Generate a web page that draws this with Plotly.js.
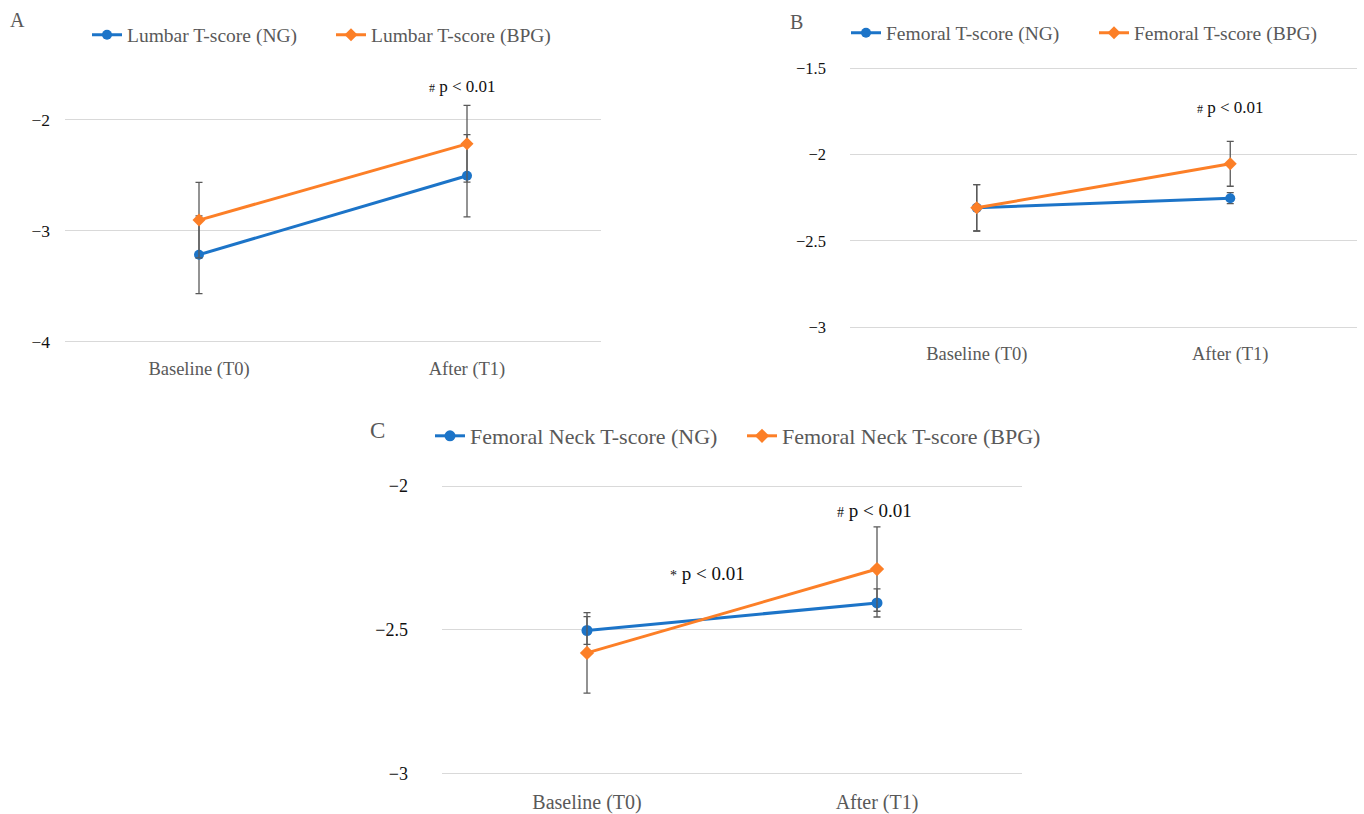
<!DOCTYPE html>
<html>
<head>
<meta charset="utf-8">
<script src="https://cdn.plot.ly/plotly-3.0.1.min.js"></script>
<style>html,body{margin:0;padding:0;background:#fff;}</style>
</head>
<body>
<div id="chart" style="width:1364px;height:814px;"></div>
<script>
const categories = ['Baseline (T0)', 'After (T1)'];

const lumbarNG = [-3.215, -2.505];
const lumbarNGErr = [0.35, 0.37];
const lumbarBPG = [-2.904, -2.218];
const lumbarBPGErr = [0.34, 0.345];

const femoralNG = [-2.309, -2.253];
const femoralNGErr = [0.134, 0.032];
const femoralBPG = [-2.309, -2.054];
const femoralBPGErr = [0.134, 0.13];

const neckNG = [-2.503, -2.407];
const neckNGErr = [0.048, 0.049];
const neckBPG = [-2.581, -2.289];
const neckBPGErr = [0.14, 0.147];

const names = {
  A: ['Lumbar T-score (NG)', 'Lumbar T-score (BPG)'],
  B: ['Femoral T-score (NG)', 'Femoral T-score (BPG)'],
  C: ['Femoral Neck T-score (NG)', 'Femoral Neck T-score (BPG)']
};

const BLUE = '#1c74c8';
const ORANGE = '#fc7f27';
const ERRC = '#595959';
const FONT = 'Liberation Serif, Times New Roman, serif';
const W = 1364, H = 814;
const px = v => v / W;
const py = v => 1 - v / H;

function pair(xa, ya, ng, ngErr, bpg, bpgErr, nm, leg, msize) {
  const mk = (y, err, name, color, symbol, size) => ({
    type: 'scatter', mode: 'lines+markers', x: categories, y: y, name: name,
    xaxis: xa, yaxis: ya, legend: leg,
    line: {color: color, width: 3},
    marker: {color: color, symbol: symbol, size: size},
    error_y: {type: 'data', array: err, visible: true, color: ERRC, thickness: 1.3, width: 3.5}
  });
  return [
    mk(ng, ngErr, nm[0], BLUE, 'circle', msize),
    mk(bpg, bpgErr, nm[1], ORANGE, 'diamond', msize)
  ];
}

const data = [].concat(
  pair('x', 'y', lumbarNG, lumbarNGErr, lumbarBPG, lumbarBPGErr, names.A, 'legend', 10),
  pair('x2', 'y2', femoralNG, femoralNGErr, femoralBPG, femoralBPGErr, names.B, 'legend2', 10),
  pair('x3', 'y3', neckNG, neckNGErr, neckBPG, neckBPGErr, names.C, 'legend3', 11)
);

function xax(d, size, standoff) {
  return {
    domain: d, type: 'category', range: [-0.5, 1.5], showgrid: false, zeroline: false,
    showline: false, ticks: '',
    tickfont: {family: FONT, size: size, color: '#595959'}, ticklabelstandoff: standoff,
    fixedrange: true
  };
}
function yax(d, r, dt, size, standoff) {
  return {
    domain: d, range: r, dtick: dt, tick0: -4, showgrid: true, gridcolor: '#d9d9d9', gridwidth: 1,
    zeroline: false, showline: false, ticks: '',
    tickfont: {family: FONT, size: size, color: '#111'}, ticklabelstandoff: standoff,
    fixedrange: true
  };
}

const legBase = (x, y, size, ew) => ({
  orientation: 'h', x: x, y: y, xanchor: 'left', yanchor: 'middle',
  font: {family: FONT, size: size, color: '#595959'}, itemwidth: 30,
  entrywidth: ew, entrywidthmode: 'pixels',
  bgcolor: 'rgba(0,0,0,0)', traceorder: 'normal'
});

const layout = {
  width: W, height: H, autosize: false,
  margin: {l: 0, r: 0, t: 0, b: 0},
  paper_bgcolor: '#fff', plot_bgcolor: '#fff',
  showlegend: true,
  xaxis: Object.assign(xax([px(65), px(601)], 18.5, 11), {anchor: 'y'}),
  yaxis: Object.assign(yax([py(344.2), py(64)], [-4.02, -1.5], 1, 17.5, 14), {anchor: 'x'}),
  xaxis2: Object.assign(xax([px(850), px(1357)], 18.5, 11), {anchor: 'y2'}),
  yaxis2: Object.assign(yax([py(329), py(66.3)], [-3.01, -1.49], 0.5, 16.5, 23), {anchor: 'x2'}),
  xaxis3: Object.assign(xax([px(442), px(1022)], 20, 13), {anchor: 'y3'}),
  yaxis3: Object.assign(yax([py(774.7), py(484.6)], [-3.005, -1.995], 0.5, 18, 33), {anchor: 'x3'}),
  legend: legBase(px(87), py(35), 19.5, 199),
  legend2: legBase(px(846), py(33), 19.5, 203),
  legend3: legBase(px(430), py(436), 22, 267),
  annotations: [
    {text: 'A', xref: 'paper', yref: 'paper', x: px(17), y: py(20), xanchor: 'center', yanchor: 'middle',
     showarrow: false, font: {family: FONT, size: 20, color: '#595959'}},
    {text: 'B', xref: 'paper', yref: 'paper', x: px(796), y: py(22), xanchor: 'center', yanchor: 'middle',
     showarrow: false, font: {family: FONT, size: 20, color: '#595959'}},
    {text: 'C', xref: 'paper', yref: 'paper', x: px(378), y: py(430), xanchor: 'center', yanchor: 'middle',
     showarrow: false, font: {family: FONT, size: 23, color: '#595959'}},
    {text: '<span style="font-size:12px">#</span> p < 0.01', xref: 'x', yref: 'y', x: categories[1], y: -1.703,
     xshift: -5, xanchor: 'center', yanchor: 'middle', showarrow: false, font: {family: FONT, size: 17, color: '#111'}},
    {text: '<span style="font-size:12px">#</span> p < 0.01', xref: 'x2', yref: 'y2', x: categories[1], y: -1.73,
     xanchor: 'center', yanchor: 'middle', showarrow: false, font: {family: FONT, size: 17, color: '#111'}},
    {text: '<span style="font-size:14px">#</span> p < 0.01', xref: 'x3', yref: 'y3', x: categories[1], y: -2.0835,
     xshift: -3, xanchor: 'center', yanchor: 'middle', showarrow: false, font: {family: FONT, size: 19, color: '#111'}},
    {text: '<span style="font-size:14px">*</span> p < 0.01', xref: 'x3', yref: 'y3', x: 0.414, y: -2.306,
     xanchor: 'center', yanchor: 'middle', showarrow: false, font: {family: FONT, size: 19, color: '#111'}}
  ]
};

Plotly.newPlot('chart', data, layout, {displayModeBar: false, staticPlot: true});
</script>
</body>
</html>
